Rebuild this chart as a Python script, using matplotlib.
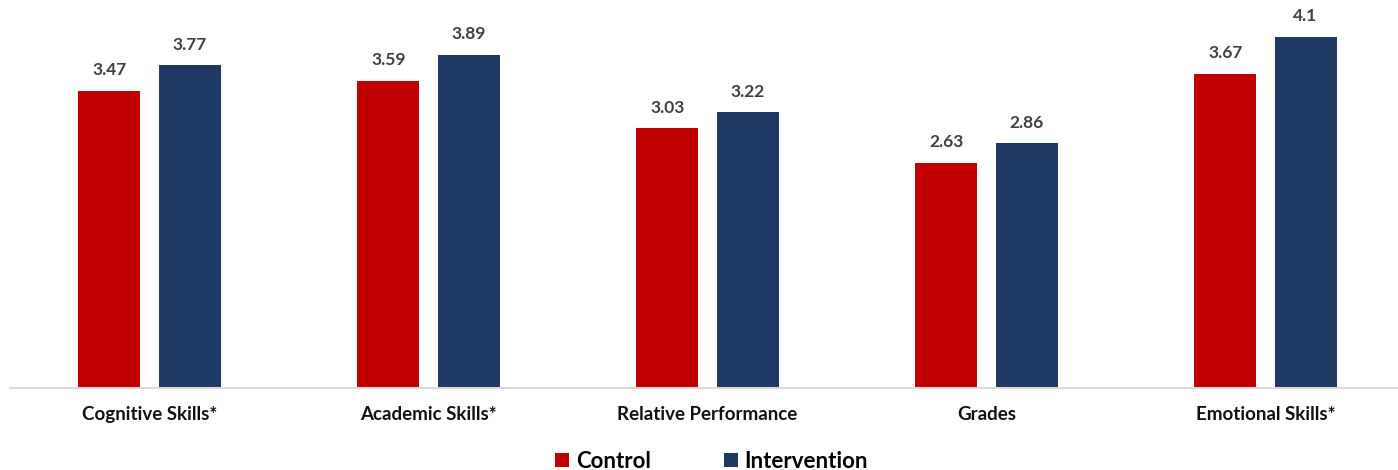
import matplotlib.pyplot as plt
import numpy as np

categories = ["Cognitive Skills*", "Academic Skills*", "Relative Performance", "Grades", "Emotional Skills*"]
control = [3.47, 3.59, 3.03, 2.63, 3.67]
intervention = [3.77, 3.89, 3.22, 2.86, 4.1]

red = "#c00000"
navy = "#203864"

plt.rcParams['font.family'] = ['Lato', 'DejaVu Sans']

fig = plt.figure(figsize=(13.98, 4.70), dpi=100)
# axes spans from the left edge of the baseline to just past the right edge
ax = fig.add_axes([10 / 1398, 1 - 388 / 470, 1395 / 1398, 388 / 470])

x = np.arange(len(categories))
w = 0.222
off = 0.287

b1 = ax.bar(x - off / 2, control, w, color=red, label="Control")
b2 = ax.bar(x + off / 2, intervention, w, color=navy, label="Intervention")

for bars, vals in ((b1, control), (b2, intervention)):
    for rect, v in zip(bars, vals):
        ax.annotate(f"{v:g}", (rect.get_x() + rect.get_width() / 2, v),
                    xytext=(0, 9), textcoords="offset points",
                    ha="center", va="bottom", fontsize=12.5, fontweight="bold", color="#404040")

ax.set_xlim(-0.5, 4.5)
ax.set_ylim(0, 4.53)
ax.set_xticks(x)
ax.set_xticklabels(categories, fontsize=13.5, fontweight="bold", color="#111111")
ax.tick_params(axis="x", length=0, pad=13)
ax.set_yticks([])
for s in ("top", "right", "left"):
    ax.spines[s].set_visible(False)
ax.spines["bottom"].set_color("#d9d9d9")
ax.spines["bottom"].set_linewidth(1.5)

fig.legend(handles=[b1, b2], loc="center", bbox_to_anchor=(0.509, 0.018), ncol=2,
           frameon=False, prop={"size": 16, "weight": "bold"},
           handlelength=0.62, handleheight=0.62, handletextpad=0.3, columnspacing=3.3)

fig.savefig("out.png", dpi=100)
